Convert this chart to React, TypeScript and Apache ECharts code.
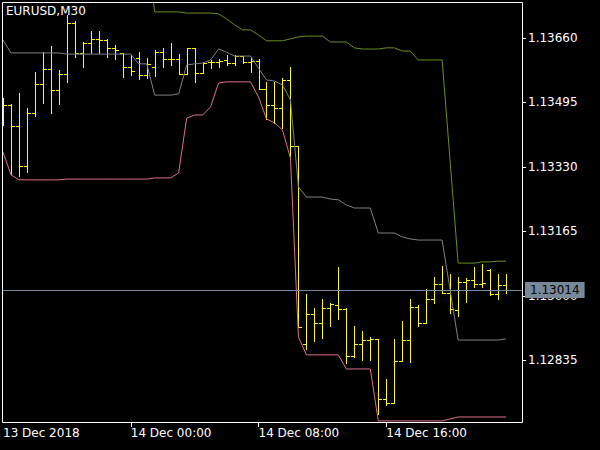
import React, { useEffect, useRef } from "react";
import * as echarts from "echarts";

// Bar index 0 = 13 Dec 2018 16:00 (M30 bars)
const tickBars = [0, 16, 32, 48];
const tickLabels = ["13 Dec 2018", "14 Dec 00:00", "14 Dec 08:00", "14 Dec 16:00"];
const priceTicks = [1.12835, 1.13, 1.13165, 1.1333, 1.13495, 1.1366];
const symbolTitle = "EURUSD,M30";

const opens = [
  1.13475, 1.13488, 1.13434, 1.13332, 1.13467, 1.13542, 1.1358, 1.13526, 1.13567, 1.13698,
  1.13621, 1.13646, 1.13657, 1.13654, 1.13634, 1.13621, 1.13585, 1.13608, 1.13565, 1.13585,
  1.13623, 1.13606, 1.13606, 1.13567, 1.13634, 1.1357, 1.13598, 1.13598, 1.13603, 1.13595,
  1.13613, 1.13598, 1.136, 1.13529, 1.13488, 1.1348, 1.13552, 1.13383, 1.12876, 1.12953,
  1.1293, 1.12968, 1.12976, 1.12966, 1.12845, 1.12876, 1.12886, 1.12889, 1.12735, 1.12725,
  1.12832, 1.12886, 1.12971, 1.1293, 1.12991, 1.1303, 1.13006, 1.12963, 1.13035, 1.1304,
  1.1303, 1.13065, 1.13004, 1.13027,
];
const highs = [
  1.13506, 1.1349, 1.13518, 1.1348, 1.13572, 1.13623, 1.13639, 1.13577, 1.13718, 1.13703,
  1.13649, 1.13677, 1.13677, 1.13657, 1.13641, 1.13621, 1.13616, 1.13623, 1.13608, 1.13629,
  1.13634, 1.13646, 1.13618, 1.13634, 1.13634, 1.13595, 1.13603, 1.13606, 1.13616, 1.13616,
  1.13613, 1.13611, 1.13606, 1.13547, 1.13547, 1.13557, 1.13585, 1.13383, 1.13004, 1.12968,
  1.12991, 1.12981, 1.13073, 1.12968, 1.12922, 1.12909, 1.12894, 1.12889, 1.12786, 1.12889,
  1.12935, 1.12991, 1.12976, 1.13017, 1.13047, 1.13076, 1.13055, 1.13047, 1.13045, 1.13073,
  1.13081, 1.13068, 1.13055, 1.13055,
];
const lows = [
  1.13437, 1.13311, 1.13306, 1.13316, 1.1346, 1.13493, 1.13467, 1.1349, 1.13547, 1.13611,
  1.13585, 1.13621, 1.13621, 1.13611, 1.13606, 1.13559, 1.13565, 1.13554, 1.13557, 1.13562,
  1.13585, 1.1359, 1.13567, 1.13567, 1.13547, 1.1357, 1.13582, 1.13585, 1.1359, 1.1359,
  1.13595, 1.13572, 1.13529, 1.13452, 1.13442, 1.13429, 1.13355, 1.12919, 1.12863, 1.12884,
  1.12891, 1.12922, 1.1294, 1.12827, 1.12843, 1.12835, 1.12835, 1.12697, 1.1272, 1.12725,
  1.12832, 1.1283, 1.12922, 1.1293, 1.12981, 1.13006, 1.12955, 1.12948, 1.12983, 1.13022,
  1.13022, 1.13001, 1.12991, 1.13006,
];
const closes = [
  1.13488, 1.13434, 1.13332, 1.13467, 1.13542, 1.1358, 1.13526, 1.13567, 1.13698, 1.13621,
  1.13646, 1.13657, 1.13654, 1.13634, 1.13629, 1.13585, 1.13575, 1.13565, 1.13593, 1.13623,
  1.13606, 1.13606, 1.13567, 1.13634, 1.1357, 1.13595, 1.13598, 1.136, 1.13595, 1.13613,
  1.13598, 1.136, 1.13529, 1.13488, 1.1348, 1.13552, 1.13383, 1.12919, 1.12953, 1.1293,
  1.12968, 1.12978, 1.12966, 1.12845, 1.12876, 1.12886, 1.12889, 1.12735, 1.12725, 1.12832,
  1.12886, 1.12971, 1.1293, 1.12991, 1.1303, 1.13006, 1.12966, 1.13035, 1.1304, 1.1303,
  1.13032, 1.13004, 1.13027, 1.13014,
];
const upperBand = [
  1.13941, 1.13933, 1.13946, 1.13946, 1.13946, 1.13946, 1.13946, 1.13946, 1.13938, 1.13938,
  1.13938, 1.13938, 1.13938, 1.13938, 1.13938, 1.13938, 1.13938, 1.13887, 1.13887, 1.13726,
  1.13726, 1.13726, 1.13726, 1.13723, 1.13723, 1.13723, 1.13723, 1.13721, 1.13708, 1.13693,
  1.1368, 1.1368, 1.13667, 1.13652, 1.13652, 1.13652, 1.13657, 1.13662, 1.13664, 1.13664,
  1.13664, 1.13649, 1.13649, 1.13649, 1.13634, 1.13631, 1.13631, 1.13631, 1.13634, 1.13634,
  1.13626, 1.13626, 1.13603, 1.13603, 1.13603, 1.13603, 1.13344, 1.13083, 1.13083, 1.13083,
  1.13086, 1.13086, 1.13088, 1.13088,
];
const middleBand = [
  1.13654, 1.13621, 1.13621, 1.13621, 1.13621, 1.13621, 1.13621, 1.13621, 1.13618, 1.13618,
  1.13618, 1.13618, 1.13618, 1.13618, 1.13618, 1.13618, 1.13618, 1.13593, 1.13593, 1.13513,
  1.13513, 1.13513, 1.13516, 1.1359, 1.13593, 1.13595, 1.13603, 1.13631, 1.13623, 1.13613,
  1.13613, 1.13613, 1.13582, 1.13552, 1.13549, 1.13539, 1.13501, 1.13278, 1.13252, 1.13252,
  1.13252, 1.13247, 1.13245, 1.13232, 1.13224, 1.13224, 1.13224, 1.1316, 1.1316, 1.1316,
  1.1315, 1.13145, 1.13142, 1.13142, 1.13142, 1.13142, 1.13014, 1.12886, 1.12886, 1.12886,
  1.12886, 1.12886, 1.12886, 1.12889,
];
const lowerBand = [
  1.13367, 1.13309, 1.13296, 1.13296, 1.13296, 1.13296, 1.13296, 1.13296, 1.13298, 1.13298,
  1.13298, 1.13298, 1.13298, 1.13298, 1.13298, 1.13298, 1.13298, 1.13298, 1.13298, 1.13301,
  1.13301, 1.13301, 1.13314, 1.13454, 1.13462, 1.13462, 1.13483, 1.13544, 1.13547, 1.13547,
  1.13547, 1.13547, 1.13508, 1.13452, 1.13442, 1.13424, 1.13352, 1.12894, 1.12848, 1.12848,
  1.12848, 1.12848, 1.12848, 1.12812, 1.12812, 1.12812, 1.12812, 1.12679, 1.12679, 1.12679,
  1.12679, 1.12679, 1.12679, 1.12679, 1.12679, 1.12679, 1.12684, 1.12689, 1.12689, 1.12689,
  1.12689, 1.12689, 1.12689, 1.12689,
];

const FONT = "DejaVu Sans";
const X_MAX = 65;

export default function App() {
  const ref = useRef<HTMLDivElement>(null);

  useEffect(() => {
    if (!ref.current) return;
    const chart = echarts.init(ref.current, null, { renderer: "svg" });
    const lastClose = closes[closes.length - 1];
    const bars = opens.map((o, i) => [i, o, highs[i], lows[i], closes[i]]);
    const line = (arr: number[]) => arr.map((v, i) => [i, v]);
    const labelMap: Record<number, string> = {};
    tickBars.forEach((b, i) => (labelMap[b] = tickLabels[i]));

    const crisp = (v: number) => Math.round(v) + 0.5;

    chart.setOption({
      animation: false,
      backgroundColor: "#000000",
      title: {
        text: symbolTitle,
        left: 6,
        top: 5,
        padding: 0,
        textStyle: { color: "#ffffff", fontSize: 12, fontWeight: "normal", fontFamily: FONT },
      },
      grid: { left: 2, right: 78, top: 2, bottom: 27, containLabel: false },
      xAxis: {
        type: "value",
        min: 0,
        max: X_MAX,
        axisLine: { show: false },
        splitLine: { show: false },
        axisTick: {
          show: true,
          length: 4,
          inside: false,
          customValues: tickBars.slice(1),
          lineStyle: { color: "#ffffff", width: 1 },
        },
        axisLabel: {
          show: true,
          customValues: tickBars,
          formatter: (v: number) => labelMap[v] ?? "",
          color: "#ffffff",
          fontSize: 12,
          fontFamily: FONT,
          align: "left",
          margin: 4,
          hideOverlap: false,
        },
      },
      yAxis: {
        type: "value",
        position: "right",
        min: 1.126736,
        max: 1.137514,
        scale: true,
        axisLine: { show: false },
        splitLine: { show: false },
        axisTick: { show: false },
        axisLabel: {
          show: true,
          customValues: priceTicks,
          formatter: (v: number) => v.toFixed(5),
          color: "#ffffff",
          fontSize: 12,
          fontFamily: FONT,
          margin: 6,
          hideOverlap: false,
        },
      },
      series: [
        {
          type: "line",
          name: "price",
          data: [],
          silent: true,
          markLine: {
            silent: true,
            precision: 5,
            symbol: ["none", "none"],
            data: [{ yAxis: lastClose }],
            lineStyle: { color: "#778899", width: 1, type: "solid" },
            label: {
              show: true,
              position: "end",
              distance: 3,
              formatter: () => lastClose.toFixed(5),
              color: "#000000",
              backgroundColor: "#778899",
              padding: [2, 5, 2, 5],
              fontSize: 12,
              fontFamily: FONT,
            },
            emphasis: { disabled: true },
          },
        },
        {
          type: "custom",
          name: "priceTicks",
          data: priceTicks.map((p) => [X_MAX, p]),
          silent: true,
          clip: false,
          encode: { x: 0, y: 1 },
          renderItem: (params: any, api: any) => {
            const pt = api.coord([api.value(0), api.value(1)]);
            const y = crisp(pt[1]);
            const x = Math.round(pt[0]);
            return {
              type: "line",
              shape: { x1: x + 1, y1: y, x2: x + 4, y2: y },
              style: { stroke: "#ffffff", lineWidth: 1 },
            };
          },
        },
        {
          type: "line",
          name: "upper",
          data: line(upperBand),
          symbol: "none",
          silent: true,
          clip: true,
          lineStyle: { color: "#6B8E23", width: 1 },
        },
        {
          type: "line",
          name: "middle",
          data: line(middleBand),
          symbol: "none",
          silent: true,
          clip: true,
          lineStyle: { color: "#808080", width: 1 },
        },
        {
          type: "line",
          name: "lower",
          data: line(lowerBand),
          symbol: "none",
          silent: true,
          clip: true,
          lineStyle: { color: "#E0708A", width: 1 },
        },
        {
          type: "custom",
          name: "bars",
          data: bars,
          silent: true,
          clip: true,
          encode: { x: 0, y: [1, 2, 3, 4] },
          renderItem: (params: any, api: any) => {
            const x = api.value(0);
            const o = api.coord([x, api.value(1)]);
            const h = api.coord([x, api.value(2)]);
            const l = api.coord([x, api.value(3)]);
            const c = api.coord([x, api.value(4)]);
            const px = crisp(o[0]);
            const style = { stroke: "#FFFF00", lineWidth: 1, fill: null };
            return {
              type: "group",
              children: [
                { type: "line", shape: { x1: px, y1: crisp(h[1]) - 0.5, x2: px, y2: crisp(l[1]) + 0.5 }, style },
                { type: "line", shape: { x1: px - 3.5, y1: crisp(o[1]), x2: px, y2: crisp(o[1]) }, style },
                { type: "line", shape: { x1: px, y1: crisp(c[1]), x2: px + 3.5, y2: crisp(c[1]) }, style },
              ],
            };
          },
        },
      ],
      graphic: [
        {
          type: "rect",
          silent: true,
          z: 100,
          shape: { x: 2.5, y: 2.5, width: 520, height: 420 },
          style: { fill: "none", stroke: "#ffffff", lineWidth: 1 },
        },
      ],
    });

    return () => chart.dispose();
  }, []);

  return (
    <div
      ref={ref}
      style={{ position: "fixed", left: 0, top: 0, width: 600, height: 450, background: "#000" }}
    />
  );
}
